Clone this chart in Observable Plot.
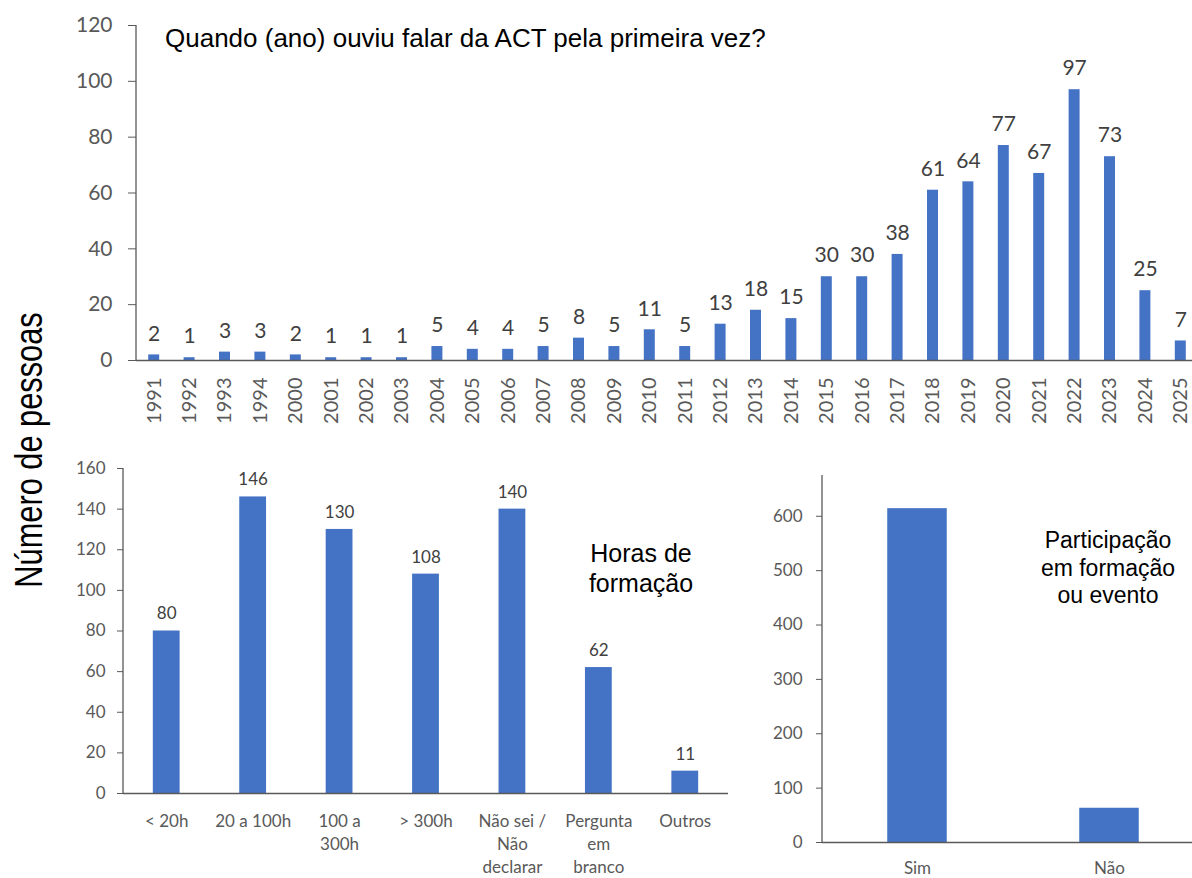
<!DOCTYPE html>
<html><head><meta charset="utf-8">
<script src="https://cdn.jsdelivr.net/npm/d3@7"></script>
<script src="https://cdn.jsdelivr.net/npm/@observablehq/plot@0.6"></script>
<style>
html,body{margin:0;padding:0;background:#fff;}
#root{position:relative;width:1192px;height:878px;overflow:hidden;font-family:Lato,sans-serif;}
</style></head><body><div id="root"></div>
<script>
// ---- data ----
const years = ["1991","1992","1993","1994","2000","2001","2002","2003","2004","2005","2006","2007","2008","2009","2010","2011","2012","2013","2014","2015","2016","2017","2018","2019","2020","2021","2022","2023","2024","2025"];
const yearCounts = [2,1,3,3,2,1,1,1,5,4,4,5,8,5,11,5,13,18,15,30,30,38,61,64,77,67,97,73,25,7];
const yearTicks = [0,20,40,60,80,100,120];

const hourCats = ["< 20h","20 a 100h","100 a\n300h","> 300h","Não sei /\nNão\ndeclarar","Pergunta\nem\nbranco","Outros"];
const hourCounts = [80,146,130,108,140,62,11];
const hourTicks = [0,20,40,60,80,100,120,140,160];

const partCats = ["Sim","Não"];
const partCounts = [614,63];
const partTicks = [0,100,200,300,400,500,600];

const titleTop = "Quando (ano) ouviu falar da ACT pela primeira vez?";
const titleHours = ["Horas de","formação"];
const titlePart = ["Participação","em formação","ou evento"];
const yTitle = "Número de pessoas";

// ---- style ----
const BLUE = "#4472C4", AXIS = "#595959", TICKTXT = "#595959", LABEL = "#404040";
const root = document.getElementById("root");
function place(el, left, top){ el.style.position="absolute"; el.style.left=left+"px"; el.style.top=top+"px"; root.appendChild(el); }
function leftLine(color){
  return (index, scales, values, dims) => {
    const l = d3.create("svg:line")
      .attr("x1", dims.marginLeft).attr("x2", dims.marginLeft)
      .attr("y1", dims.marginTop).attr("y2", dims.height - dims.marginBottom)
      .attr("stroke", color).attr("stroke-width", 1.3);
    return l.node();
  };
}

// ---- top panel ----
const yearData = years.map((y,i)=>({year:y, n:yearCounts[i]}));
place(Plot.plot({
  width:1192, height:430, marginLeft:136, marginRight:0, marginTop:25, marginBottom:70,
  style:{fontFamily:"Lato, sans-serif", background:"transparent", overflow:"visible"},
  x:{domain:years, range:[136,1198], paddingInner:0.69, paddingOuter:0.345, round:false, label:null},
  y:{domain:[0,120], label:null},
  marks:[
    Plot.barY(yearData, {x:"year", y:"n", fill:BLUE}),
    Plot.ruleY([0], {stroke:AXIS, strokeWidth:1.3}),
    leftLine(AXIS),
    Plot.text(yearData, {x:"year", y:"n", text:d=>String(d.n), dy:-21, fontSize:21, fill:LABEL}),
    Plot.axisX({tickSize:0, tickPadding:17, tickRotate:-90, fontSize:20, fill:TICKTXT, label:null}),
    Plot.axisY({ticks:yearTicks, tickSize:8, tickPadding:16, fontSize:21, fill:TICKTXT, stroke:AXIS, label:null})
  ]
}), 0, 0);

// ---- bottom-left panel ----
const hourData = hourCats.map((c,i)=>({cat:c, n:hourCounts[i]}));
place(Plot.plot({
  width:740, height:438, marginLeft:123, marginRight:12, marginTop:28, marginBottom:85,
  style:{fontFamily:"Lato, sans-serif", background:"transparent", overflow:"visible"},
  x:{domain:hourCats, paddingInner:0.69, paddingOuter:0.345, round:false, label:null},
  y:{domain:[0,160], label:null},
  marks:[
    Plot.barY(hourData, {x:"cat", y:"n", fill:BLUE}),
    Plot.ruleY([0], {stroke:AXIS, strokeWidth:1.3}),
    leftLine(AXIS),
    Plot.text(hourData, {x:"cat", y:"n", text:d=>String(d.n), dy:-17, fontSize:17, fill:LABEL}),
    Plot.axisX({tickSize:0, tickPadding:17, fontSize:17, lineHeight:1.35, fill:TICKTXT, label:null}),
    Plot.axisY({ticks:hourTicks, tickSize:6, tickPadding:12, fontSize:17, fill:TICKTXT, stroke:AXIS, label:null})
  ]
}), 0, 440);

// ---- bottom-right panel ----
const partData = partCats.map((c,i)=>({cat:c, n:partCounts[i]}));
place(Plot.plot({
  width:452, height:438, marginLeft:82, marginRight:0, marginTop:35, marginBottom:36,
  style:{fontFamily:"Lato, sans-serif", background:"transparent", overflow:"visible"},
  x:{domain:partCats, range:[81,465], paddingInner:0.69, paddingOuter:0.345, round:false, label:null},
  y:{domain:[0,675], label:null},
  marks:[
    Plot.barY(partData, {x:"cat", y:"n", fill:BLUE}),
    Plot.ruleY([0], {stroke:AXIS, strokeWidth:1.3}),
    leftLine(AXIS),
    Plot.axisX({tickSize:0, tickPadding:19, fontSize:17, fill:TICKTXT, label:null}),
    Plot.axisY({ticks:partTicks, tickSize:6, tickPadding:14, fontSize:17, fill:TICKTXT, stroke:AXIS, label:null})
  ]
}), 740, 440);

// ---- free texts overlay ----
const ov = d3.create("svg").attr("width",1192).attr("height",878)
  .style("position","absolute").style("left","0px").style("top","0px").style("pointer-events","none")
  .style("font-family","'Liberation Sans', Arial, sans-serif").attr("fill","#000");
ov.append("text").attr("x",165).attr("y",47).attr("font-size",26).text(titleTop);
titleHours.forEach((t,i)=>ov.append("text").attr("x",641).attr("y",562+i*30).attr("font-size",25).attr("text-anchor","middle").text(t));
titlePart.forEach((t,i)=>ov.append("text").attr("x",1108).attr("y",548+i*27.5).attr("font-size",23).attr("text-anchor","middle").text(t));
ov.append("text").attr("transform","translate(42,450) rotate(-90) scale(0.81,1)").attr("font-size",38).attr("text-anchor","middle").text(yTitle);
root.appendChild(ov.node());
</script></body></html>
